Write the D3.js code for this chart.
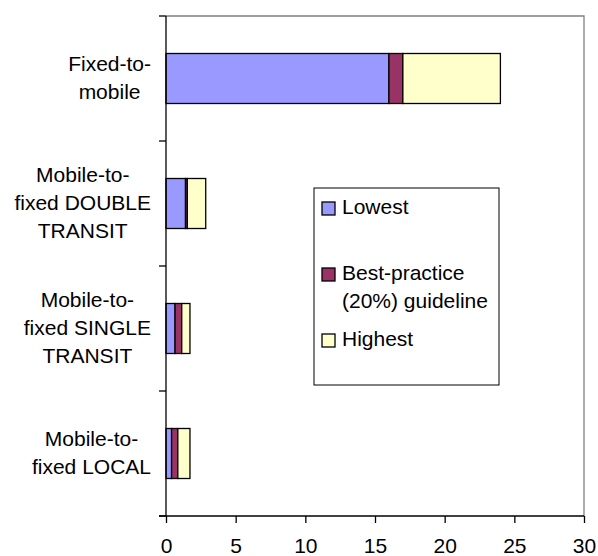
<!DOCTYPE html>
<html><head><meta charset="utf-8">
<script src="https://cdn.jsdelivr.net/npm/d3@7"></script>
<style>body{margin:0;background:#fff}svg{display:block}text{font-family:"Liberation Sans",Arial,sans-serif;fill:#000}</style>
</head><body><svg id="c" width="598" height="556"></svg>
<script>
const categories = ["Fixed-to-mobile","Mobile-to-fixed DOUBLE TRANSIT","Mobile-to-fixed SINGLE TRANSIT","Mobile-to-fixed LOCAL"];
const categoryLines = [["Fixed-to-","mobile"],["Mobile-to-","fixed DOUBLE","TRANSIT"],["Mobile-to-","fixed SINGLE","TRANSIT"],["Mobile-to-","fixed LOCAL"]];
const lowest = [16, 1.4, 0.65, 0.4];
const guideline = [1, 0.13, 0.48, 0.45];
const highest = [7, 1.32, 0.59, 0.87];
const seriesNames = ["Lowest","Best-practice (20%) guideline","Highest"];
const seriesLines = [["Lowest"],["Best-practice","(20%) guideline"],["Highest"]];
const xTicks = [0,5,10,15,20,25,30];
const colors = ["#9999FF","#993366","#FFFFCC"];

const svg = d3.select("#c");
const L=166, R=584, T=16, B=516, FS=21;
const x = d3.scaleLinear().domain([0,30]).range([L,R]);
const y = d3.scaleBand().domain(categories).range([T,B]).paddingInner(0.6).paddingOuter(0.3);

// plot border (top/right gray)
svg.append("path").attr("d",`M${L},${T}H${R}V${B}`).attr("fill","none").attr("stroke","#808080").attr("stroke-width",1.3);

// stacked bars
const rows = categories.map((c,i)=>({cat:c, vals:[lowest[i],guideline[i],highest[i]]}));
rows.forEach(r=>{
  let acc=0;
  r.vals.forEach((v,k)=>{
    svg.append("rect").attr("x",x(acc)).attr("y",y(r.cat)).attr("width",x(acc+v)-x(acc)).attr("height",y.bandwidth())
      .attr("fill",colors[k]).attr("stroke","#000").attr("stroke-width",1.3);
    acc+=v;
  });
});

// x axis
const xa = svg.append("g").attr("transform",`translate(0,${B})`)
  .call(d3.axisBottom(x).tickValues(xTicks).tickSize(7).tickSizeOuter(0).tickPadding(15));
xa.select(".domain").remove();
xa.selectAll("line").attr("stroke","#000").attr("stroke-width",1.3);
xa.selectAll("text").attr("font-size",FS).attr("font-family","Liberation Sans, Arial, sans-serif").attr("fill","#000");
svg.append("line").attr("x1",L-7).attr("x2",R).attr("y1",B).attr("y2",B).attr("stroke","#000").attr("stroke-width",1.3);

// y axis with ticks at band boundaries
svg.append("line").attr("x1",L).attr("x2",L).attr("y1",T).attr("y2",B).attr("stroke","#000").attr("stroke-width",1.3);
const bounds = categories.map(c=>y(c)-y.step()*y.paddingOuter()).concat([B]);
svg.selectAll(".yt").data(bounds).join("line").attr("x1",L-7).attr("x2",L).attr("y1",d=>d).attr("y2",d=>d).attr("stroke","#000").attr("stroke-width",1.3);

// category labels
const LH = 28;
categories.forEach((c,i)=>{
  const lines = categoryLines[i];
  const cy = y(c)+y.bandwidth()/2 - 1;
  const t = svg.append("text").attr("font-size",FS).attr("text-anchor","middle");
  lines.forEach((ln,j)=>{
    t.append("tspan").attr("x",0).attr("y",cy + (j-(lines.length-1)/2)*LH).attr("dy","0.35em").text(ln);
  });
  let mw=0; t.selectAll("tspan").each(function(){mw=Math.max(mw,this.getComputedTextLength());});
  t.selectAll("tspan").attr("x",151-mw/2);
});

// legend
svg.append("rect").attr("x",314).attr("y",188).attr("width",185).attr("height",197).attr("fill","#fff").attr("stroke","#000").attr("stroke-width",1);
const legY = [209, 275, 341];
seriesNames.forEach((s,k)=>{
  svg.append("rect").attr("x",322).attr("y",legY[k]-7).attr("width",13).attr("height",13).attr("fill",colors[k]).attr("stroke","#000").attr("stroke-width",1.3);
  const t = svg.append("text").attr("font-size",FS);
  seriesLines[k].forEach((ln,j)=>{
    t.append("tspan").attr("x",342).attr("y",legY[k]-2+j*28).attr("dy","0.35em").text(ln);
  });
});
</script></body></html>
